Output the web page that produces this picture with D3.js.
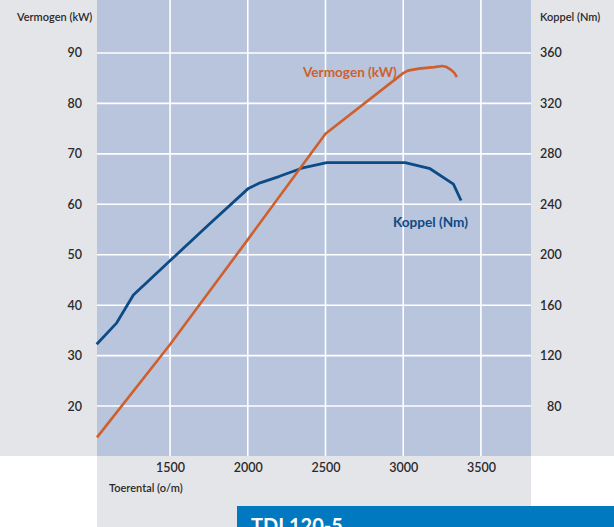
<!DOCTYPE html>
<html>
<head>
<meta charset="utf-8">
<script src="https://cdn.jsdelivr.net/npm/d3@7"></script>
<style>
  body { margin: 0; background: #fff; }
  svg { display: block; font-family: "Lato", "DejaVu Sans", sans-serif; }
</style>
</head>
<body>
<div id="chart"></div>
<script>
// toerental (o/m) and the two curves
const rpmPower = [1030, 1500, 2000, 2500, 3000, 3030, 3100, 3200, 3250, 3280, 3310, 3330, 3345];
const kwPower  = [13.8, 32.2, 53, 74, 86, 86.5, 86.9, 87.2, 87.4, 87.2, 86.6, 86, 85.2];

const rpmTorque = [1028, 1157, 1264, 1489, 1750, 2004, 2079, 2200, 2347, 2508, 2750, 3012, 3173, 3323, 3372];
const nmTorque  = [129, 146, 168, 194, 224, 252.6, 257, 262, 268.6, 273, 273, 273, 268.2, 256, 243];

const xTicks = [1500, 2000, 2500, 3000, 3500];
const kwTicks = [20, 30, 40, 50, 60, 70, 80, 90];
const nmTicks = [80, 120, 160, 200, 240, 280, 320, 360];

const width = 614, height = 527;
const plot = { left: 97, right: 531, top: 0, bottom: 456 };

const svg = d3.select("#chart")
    .append("svg")
    .attr("width", width)
    .attr("height", height);

// grey panels
svg.append("rect").attr("x", 0).attr("y", 0).attr("width", width).attr("height", plot.bottom).attr("fill", "#e4e5e9");
svg.append("rect").attr("x", plot.left).attr("y", plot.bottom).attr("width", plot.right - plot.left).attr("height", height - plot.bottom).attr("fill", "#e4e5e9");
svg.append("rect").attr("x", plot.left).attr("y", plot.top).attr("width", plot.right - plot.left).attr("height", plot.bottom - plot.top).attr("fill", "#b8c5dd");

const x = d3.scaleLinear().domain([1030, 3822]).range([plot.left, plot.right]);
const yKw = d3.scaleLinear().domain([10.1, 100.5]).range([plot.bottom, plot.top]);
const yNm = d3.scaleLinear().domain([40.4, 402]).range([plot.bottom, plot.top]);

// grid
svg.selectAll(".vgrid")
    .data(xTicks)
    .join("line")
    .attr("x1", d => x(d)).attr("x2", d => x(d))
    .attr("y1", plot.top).attr("y2", plot.bottom)
    .attr("stroke", "#fff").attr("stroke-width", 1.6);

svg.selectAll(".hgrid")
    .data(kwTicks)
    .join("line")
    .attr("x1", plot.left).attr("x2", plot.right)
    .attr("y1", d => yKw(d)).attr("y2", d => yKw(d))
    .attr("stroke", "#fff").attr("stroke-width", 1.6);

// axes
const xAxis = svg.append("g")
    .attr("transform", `translate(0, ${plot.bottom})`)
    .call(d3.axisBottom(x).tickValues(xTicks).tickFormat(d3.format("d")).tickSize(0).tickPadding(7));
const leftAxis = svg.append("g")
    .attr("transform", `translate(${plot.left - 15}, 0)`)
    .call(d3.axisLeft(yKw).tickValues(kwTicks).tickSize(0).tickPadding(0));
const rightAxis = svg.append("g")
    .attr("transform", `translate(${plot.right + 9}, 0)`)
    .call(d3.axisRight(yNm).tickValues(nmTicks).tickSize(0).tickPadding(0));

[xAxis, leftAxis, rightAxis].forEach(g => {
    g.select(".domain").remove();
    g.selectAll("text")
        .attr("font-family", "Lato, sans-serif")
        .attr("font-size", 12.5)
        .attr("font-weight", 600)
        .attr("fill", "#2a2a2a");
});
rightAxis.selectAll("text").attr("text-anchor", "start").attr("x", d => d < 100 ? 7 : 0);

// axis titles
svg.append("text").attr("x", 17).attr("y", 21).text("Vermogen (kW)")
    .attr("font-size", 11).attr("font-weight", 600).attr("fill", "#2a2a2a");
svg.append("text").attr("x", 540).attr("y", 21).text("Koppel (Nm)")
    .attr("font-size", 11).attr("font-weight", 600).attr("fill", "#2a2a2a");
svg.append("text").attr("x", 109).attr("y", 492).text("Toerental (o/m)")
    .attr("font-size", 11).attr("font-weight", 600).attr("fill", "#2a2a2a");

// curves
const powerLine = d3.line().x(d => x(d[0])).y(d => yKw(d[1]));
const torqueLine = d3.line().x(d => x(d[0])).y(d => yNm(d[1]));

svg.append("path")
    .datum(d3.zip(rpmTorque, nmTorque))
    .attr("d", torqueLine)
    .attr("fill", "none")
    .attr("stroke", "#0d4b87")
    .attr("stroke-width", 2.8)
    .attr("stroke-linejoin", "round");

svg.append("path")
    .datum(d3.zip(rpmPower, kwPower))
    .attr("d", powerLine)
    .attr("fill", "none")
    .attr("stroke", "#cf5f2c")
    .attr("stroke-width", 2.6)
    .attr("stroke-linejoin", "round");

// series labels
svg.append("text").attr("x", 303).attr("y", 77).text("Vermogen (kW)")
    .attr("font-size", 13.6).attr("font-weight", 700).attr("fill", "#cf5f2c");
svg.append("text").attr("x", 393).attr("y", 227).text("Koppel (Nm)")
    .attr("font-size", 13.6).attr("font-weight", 700).attr("fill", "#0d4b87");

// banner
svg.append("rect").attr("x", 237).attr("y", 506).attr("width", width - 237).attr("height", height - 506).attr("fill", "#0079c1");
svg.append("text").attr("x", 251).attr("y", 533).text("TDI 120-5")
    .attr("font-size", 20).attr("font-weight", 700).attr("fill", "#fff");
</script>
</body>
</html>
